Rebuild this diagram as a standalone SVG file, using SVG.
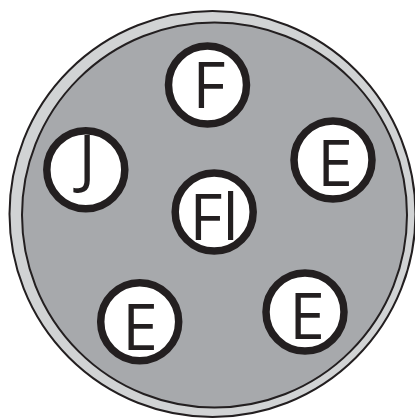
<svg xmlns="http://www.w3.org/2000/svg" width="415" height="419" viewBox="0 0 415 419">
<style>
.pin circle{fill:#ffffff;stroke:#231f20;stroke-width:7.5}
.pin text{font-family:"Open Sans","Noto Sans",sans-serif;font-size:64px;fill:#231f20;text-anchor:middle}
</style>
<g id="plug">
<circle cx="212.5" cy="214" r="203" fill="#d1d3d4" stroke="#231f20" stroke-width="2"/>
<circle cx="214.5" cy="215" r="192.5" fill="#a7a9ac" stroke="#231f20" stroke-width="2"/>
</g>
<g id="connectors"></g>
<g id="pin-F" class="pin"><circle cx="207.5" cy="85" r="39"/><text x="209" y="108">F</text></g>
<g id="pin-E1" class="pin"><circle cx="333" cy="160" r="39"/><text x="335" y="186">E</text></g>
<g id="pin-J" class="pin"><circle cx="85.8" cy="169.7" r="39"/><text x="87" y="181">J</text></g>
<g id="pin-Fl" class="pin"><circle cx="214.2" cy="212" r="39"/><text x="214" y="240">Fl</text></g>
<g id="pin-E2" class="pin"><circle cx="139.7" cy="321.7" r="39"/><text x="140" y="350">E</text></g>
<g id="pin-E3" class="pin"><circle cx="305" cy="312" r="39"/><text x="307" y="339">E</text></g>
</svg>
